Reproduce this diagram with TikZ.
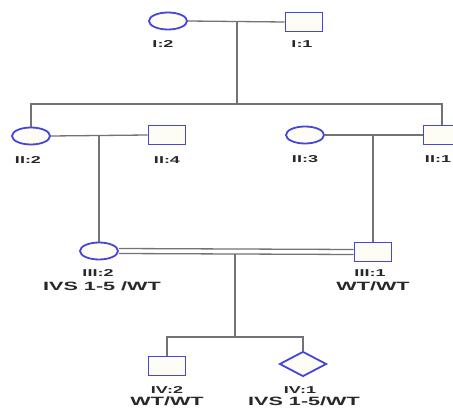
\documentclass[tikz,border=0pt]{standalone}
\usepackage{fontspec}
\setmainfont{Liberation Sans}
\usetikzlibrary{shapes.geometric}
\definecolor{penblue}{RGB}{70,70,215}
\definecolor{shapefill}{RGB}{253,253,246}
\definecolor{linegrey}{RGB}{115,115,115}
\definecolor{textgrey}{RGB}{40,40,40}
\pgfdeclarelayer{lines}
\pgfsetlayers{lines,main}
% wide bold labels: individual IDs and genotypes
\newcommand{\idtext}[1]{\scalebox{1.8}[1]{\fontsize{10}{10}\selectfont\bfseries #1}}
\newcommand{\gtext}[1]{\scalebox{1.8}[1]{\fontsize{12}{12}\selectfont\bfseries #1}}
\tikzset{
  female/.style={ellipse, draw=penblue, fill=shapefill, line width=1.8pt,
    minimum width=38pt, minimum height=17pt, inner sep=0pt},
  male/.style={rectangle, draw=penblue, fill=shapefill, line width=1.8pt,
    minimum width=37pt, minimum height=19pt, inner sep=0pt},
  unknownsex/.style={diamond, draw=penblue, fill=shapefill, line width=1.8pt,
    minimum width=47pt, minimum height=25pt, inner sep=0pt},
  lbl/.style={text=textgrey, inner sep=0pt},
  rel/.style={draw=linegrey, line width=1.3pt},
}
\begin{document}
\begin{tikzpicture}[x=1pt, y=-1pt]
\useasboundingbox (0,0) rectangle (453,409);
\clip (0,0) rectangle (453,409);

% junction points of the connectors
\coordinate (m1) at (237,22);
\coordinate (s2) at (237,104);
\coordinate (m2) at (99,135);
\coordinate (m3) at (373,135);
\coordinate (m4) at (235,254);
\coordinate (s4) at (235,337);

% generation I
\node[female] (I2) at (168,21) {};
\node[male]   (I1) at (304,22) {};
% generation II
\node[female] (II2) at (31,136) {};
\node[male]   (II4) at (167,135) {};
\node[female] (II3) at (305,135) {};
\node[male]   (II1) at (442,135) {};
% generation III
\node[female] (III2) at (99,251) {};
\node[male]   (III1) at (373,252) {};
% generation IV
\node[male]       (IV2) at (167,366) {};
\node[unknownsex] (IV1) at (303,364) {};

% white page and connectors, kept under the symbols
\begin{pgfonlayer}{lines}
\fill[white] (0,0) rectangle (453,409);
\draw[rel] (I2.east) -- (I1.west);
\draw[rel] (m1) -- (s2);
\draw[rel] (II2.north) |- (s2) -| (II1.north);
\draw[rel] (II2.east) -- (II4.west);
\draw[rel] (m2) -- (III2.north);
\draw[rel] (II3.east) -- (II1.west);
\draw[rel] (m3) -- (III1.north);
% consanguineous union
\draw[rel] ([yshift=2.5pt]III2.east) -- ([yshift=2.5pt]III1.west);
\draw[rel] ([yshift=-2.5pt]III2.east) -- ([yshift=-2.5pt]III1.west);
\draw[rel] (m4) -- (s4);
\draw[rel] (IV2.north) |- (s4) -| (IV1.north);
\end{pgfonlayer}

% labels
\node[lbl] (lI2) at (163,44) {\idtext{I:2}};
\node[lbl] (lI1) at (302,44) {\idtext{I:1}};
\node[lbl] (lII2) at (28,160) {\idtext{II:2}};
\node[lbl] (lII4) at (167,160) {\idtext{II:4}};
\node[lbl] (lII3) at (305,159) {\idtext{II:3}};
\node[lbl] (lII1) at (438,159) {\idtext{II:1}};
\node[lbl] (lIII2) at (98,273) {\idtext{III:2}};
\node[lbl] (gIII2) at (102,286) {\gtext{IVS 1-5 /WT}};
\node[lbl] (lIII1) at (370,273) {\idtext{III:1}};
\node[lbl] (gIII1) at (373,286) {\gtext{WT/WT}};
\node[lbl] (lIV2) at (167,390) {\idtext{IV:2}};
\node[lbl] (gIV2) at (167,401) {\gtext{WT/WT}};
\node[lbl] (lIV1) at (300,390) {\idtext{IV:1}};
\node[lbl] (gIV1) at (304,401) {\gtext{IVS 1-5/WT}};
\end{tikzpicture}
\end{document}
